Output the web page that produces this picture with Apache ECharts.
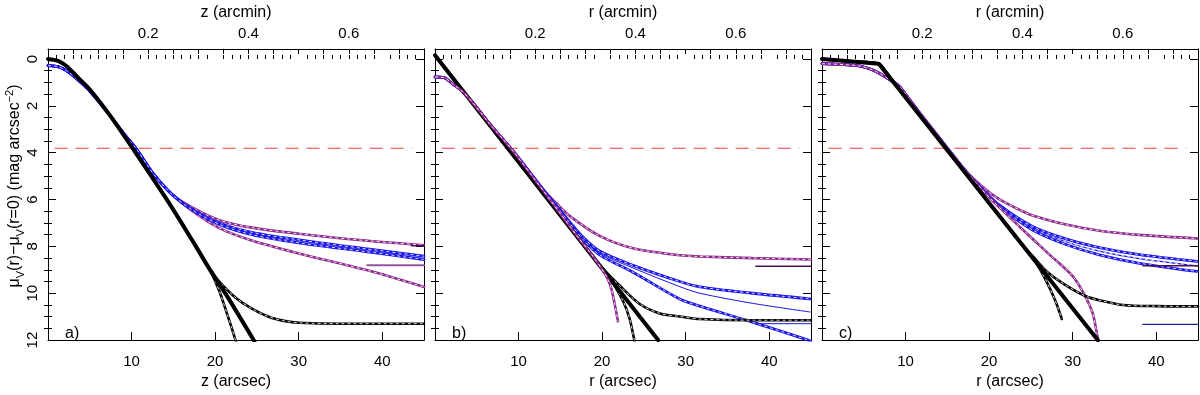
<!DOCTYPE html>
<html>
<head>
<meta charset="utf-8">
<script src="https://cdn.jsdelivr.net/npm/echarts@6/dist/echarts.min.js"></script>
<style>
  html, body { margin: 0; background: #fff; }
  #chart { width: 1200px; height: 395px; }
</style>
</head>
<body>
<div id="chart"></div>
<script>
// ---- ticks and labels ----
const xMajorTicks = [10, 20, 30, 40];
const xMinorTicks = [1, 2, 3, 4, 5, 6, 7, 8, 9, 11, 12, 13, 14, 15, 16, 17, 18, 19,
  21, 22, 23, 24, 25, 26, 27, 28, 29, 31, 32, 33, 34, 35, 36, 37, 38, 39, 41, 42, 43, 44];
const arcminTicks = [0.05, 0.1, 0.15, 0.2, 0.25, 0.3, 0.35, 0.4, 0.45, 0.5, 0.55, 0.6, 0.65, 0.7];
const arcminLabels = [0.2, 0.4, 0.6];
const yMajorTicks = [0, 2, 4, 6, 8, 10];
const yMinorTicks = [0.5, 1, 1.5, 2.5, 3, 3.5, 4.5, 5, 5.5, 6.5, 7, 7.5, 8.5, 9, 9.5, 10.5, 11, 11.5];
const yTickLabels = [0, 2, 4, 6, 8, 10, 12];
const xNames = ['z', 'r', 'r'];
const panelTags = ['a)', 'b)', 'c)'];

// horizontal reference level (red dashed)
const skyX = [0.8, 43.6];
const skyY = 3.81;

// ---- panel a ----
const aTrunk = [[0, 0], [1.2, 0.08], [2.2, 0.3], [3.6, 0.8], [5, 1.3], [7.5, 2.45], [10.1, 3.8],
  [14.4, 6.1], [17.7, 8.0], [19.3, 8.95]];
const aThickEnd = [[21.3, 10.05], [24.7, 12.05]];
const aSteepEnd = [[20.5, 9.9], [21.4, 10.85], [22, 11.5], [22.6, 12.2]];
const aFlatEnd = [[20.5, 9.5], [22.5, 10.2], [24.4, 10.66], [26.4, 11.0], [28.4, 11.19], [30, 11.26], [35, 11.3], [45, 11.3]];
const aBundle = [[0, 0.28], [1.2, 0.33], [2.2, 0.5], [3.6, 0.9], [5.2, 1.45], [7.5, 2.45], [9, 3.15],
  [10.7, 3.9], [12.5, 4.85], [14.9, 5.8]];
const aBlue1End = [[17.3, 6.42], [20.5, 7.0], [24.4, 7.4], [30, 7.72], [38, 8.1], [45, 8.42]];
const aBlue2End = [[17.3, 6.45], [20.5, 7.06], [24.4, 7.5], [30, 7.85], [38, 8.22], [45, 8.56]];
const aPurpleUpEnd = [[17.3, 6.35], [20.5, 6.88], [24.4, 7.2], [30, 7.46], [38, 7.75], [45, 7.95]];
const aPurpleLowEnd = [[17.3, 6.5], [20.5, 7.22], [24.4, 7.75], [30, 8.3], [38, 9.0], [45, 9.73]];
const aMarkPurple = [[38.2, 8.81], [45, 8.81]];
const aMarkDark = [[43.5, 7.97], [45, 7.97]];

// ---- panel b ----
const bThick = [[0, -0.16], [26.7, 12.0]];
const bTrunk = [[0, -0.16], [10, 4.39], [19.5, 8.71]];
const bSteepEnd = [[20.9, 9.35], [22.5, 10.33], [23.3, 11.1], [23.9, 12.1]];
const bFlatEnd = [[22.1, 9.67], [24.5, 10.46], [26.9, 10.86], [29.3, 10.99], [31.7, 11.1], [38, 11.15], [45, 11.15]];
const bBundle = [[0, 0.77], [1.1, 0.8], [2.1, 1.06], [3.3, 1.39], [4.5, 1.86], [6.5, 2.75], [9.5, 4.0], [13, 5.6]];
const bBlueUpEnd = [[16, 6.9], [17.7, 7.6], [19.7, 8.2], [23.7, 8.81], [29.3, 9.5], [31.7, 9.73], [38, 10.0], [44.9, 10.24]];
const bBlueThinEnd = [[16, 6.92], [17.7, 7.65], [19.7, 8.28], [23.7, 8.92], [29.3, 9.72], [31.7, 10.0], [38, 10.43], [44.9, 10.8]];
const bBlueLowEnd = [[16, 6.95], [17.7, 7.7], [19.7, 8.36], [23.7, 9.1], [29.3, 10.25], [31.7, 10.55], [37.7, 11.2], [44.5, 11.98], [45, 12.05]];
const bPurpleUpEnd = [[14.5, 6.15], [16.3, 6.75], [19.7, 7.55], [23.7, 8.08], [29.3, 8.38], [31.7, 8.43], [38, 8.5], [45, 8.56]];
const bPurpleSteepEnd = [[17, 7.55], [18.9, 8.42], [20.5, 9.27], [21.1, 9.8], [21.5, 10.46], [21.9, 11.2]];
const bMarkPurple = [[38.4, 8.85], [45, 8.85]];
const bMarkBlue = [[38.4, 11.3], [45, 11.3]];

// ---- panel c ----
const cThick = [[0, 0], [6.8, 0.2], [33, 12]];
const cTrunk = [[0, 0], [3.4, 0.1], [6.8, 0.2], [7.6, 0.52], [9, 1.18], [15.2, 3.99], [24, 7.96]];
const cSteepEnd = [[25.5, 8.64], [26.8, 9.45], [27.9, 10.3], [28.7, 11.1]];
const cFlatEnd = [[25.3, 8.45], [27, 9.1], [29.2, 9.66], [31.6, 10.13], [33.2, 10.3], [36, 10.5], [40, 10.55], [45, 10.56]];
const cBundle = [[0, 0.2], [4.4, 0.29], [6, 0.46], [6.8, 0.6], [8, 0.86], [9.2, 1.15], [10.5, 1.75], [12, 2.45], [15, 3.8], [17, 4.7]];
const cBlue1End = [[19.2, 5.56], [21.2, 6.23], [25.2, 7.15], [29.2, 7.68], [33.2, 8.05], [38, 8.35], [44.9, 8.64]];
const cBlue2End = [[19.2, 5.57], [21.2, 6.25], [25.2, 7.22], [29.2, 7.8], [33.2, 8.2], [38, 8.52], [44.9, 8.83]];
const cBlue3End = [[19.2, 5.58], [21.2, 6.28], [25.2, 7.3], [29.2, 7.92], [33.2, 8.36], [38, 8.72], [44.9, 9.07]];
const cPurpleUpEnd = [[19.2, 5.45], [21.2, 5.98], [24, 6.5], [25.2, 6.68], [29.2, 7.07], [33.2, 7.33], [38.4, 7.52], [44.9, 7.66]];
const cPurpleLowEnd = [[20, 5.9], [24, 7.28], [27.2, 8.34], [30, 9.27], [31.4, 10.06], [32.4, 10.86], [32.9, 11.72], [33.1, 12.1]];
const cMarkPurple = [[38.4, 8.83], [45, 8.83]];
const cMarkBlue = [[38.4, 11.33], [45, 11.33]];

// ---- layout ----
const panelLeft = [48, 435, 822];
const panelWidth = 376;
const font = 'Liberation Sans, Arial, Helvetica, sans-serif';
const BLACK = '#000000', BLUE = '#1a14e6', PURPLE = '#8e2a8e', DARKPURPLE = '#4d0f4d', NAVY = '#22229a';

const chart = echarts.init(document.getElementById('chart'));
const grid = [], xAxis = [], yAxis = [], series = [], graphic = [];

for (let p = 0; p < 3; p++) {
  grid.push({ left: panelLeft[p], width: panelWidth, top: 39, height: 313 });
  const tickStyle = { color: '#000', width: 1 };
  xAxis.push({
    gridIndex: p, type: 'value', min: 0, max: 45, position: 'bottom',
    axisLine: { show: true, onZero: false, lineStyle: tickStyle },
    axisTick: { show: true, inside: true, length: 8, customValues: xMajorTicks, lineStyle: tickStyle },
    axisLabel: { customValues: xMajorTicks, fontSize: 15, color: '#000', margin: 14, fontFamily: font },
    splitLine: { show: false },
    name: xNames[p] + ' (arcsec)', nameLocation: 'middle', nameGap: 30,
    nameTextStyle: { fontSize: 16, color: '#000', fontFamily: font }
  });
  xAxis.push({
    gridIndex: p, type: 'value', min: 0, max: 45, position: 'bottom',
    axisLine: { show: false },
    axisTick: { show: true, inside: true, length: 4, customValues: xMinorTicks, lineStyle: tickStyle },
    axisLabel: { show: false }, splitLine: { show: false }
  });
  xAxis.push({
    gridIndex: p, type: 'value', min: 0, max: 0.75, position: 'top',
    axisLine: { show: true, onZero: false, lineStyle: tickStyle },
    axisTick: { show: true, inside: true, length: 5, customValues: arcminTicks, lineStyle: tickStyle },
    axisLabel: { customValues: arcminLabels, fontSize: 15, color: '#000', margin: 8, fontFamily: font,
      formatter: v => v.toFixed(1) },
    splitLine: { show: false },
    name: xNames[p] + ' (arcmin)', nameLocation: 'middle', nameGap: 23,
    nameTextStyle: { fontSize: 16, color: '#000', fontFamily: font }
  });
  ['left', 'right'].forEach(side => {
    yAxis.push({
      gridIndex: p, type: 'value', inverse: true, min: -0.43, max: 12, position: side,
      axisLine: { show: true, onZero: false, lineStyle: tickStyle },
      axisTick: { show: true, inside: true, length: 8, customValues: yMajorTicks, lineStyle: tickStyle },
      axisLabel: { show: p === 0 && side === 'left', customValues: yTickLabels, rotate: 90,
        fontSize: 15, color: '#000', margin: 8, fontFamily: font },
      splitLine: { show: false }
    });
    yAxis.push({
      gridIndex: p, type: 'value', inverse: true, min: -0.43, max: 12, position: side,
      axisLine: { show: false },
      axisTick: { show: true, inside: true, length: 4, customValues: yMinorTicks, lineStyle: tickStyle },
      axisLabel: { show: false }, splitLine: { show: false }
    });
  });
  graphic.push({
    type: 'text', left: panelLeft[p] + 17, top: 326,
    style: { text: panelTags[p], fontSize: 16, fill: '#000', fontFamily: font }
  });
}

function curve(p, pts, color, width, dashed, smooth = true) {
  const base = {
    type: 'line', xAxisIndex: 3 * p, yAxisIndex: 4 * p, data: pts,
    showSymbol: false, symbol: 'none', silent: true, animation: false,
    smooth: smooth ? 0.3 : false,
    lineStyle: { color: color, width: width, cap: 'round' }
  };
  series.push(base);
  if (dashed) {
    series.push(Object.assign({}, base, {
      lineStyle: { color: '#ffffff', width: 1, type: [3, 3], opacity: 0.85 }
    }));
  }
}

for (let p = 0; p < 3; p++) {
  series.push({
    type: 'line', xAxisIndex: 3 * p, yAxisIndex: 4 * p, silent: true, animation: false,
    showSymbol: false, symbol: 'none',
    data: skyX.map(x => [x, skyY]),
    lineStyle: { color: '#f03a3a', width: 1.2, type: [13, 8] }
  });
}

// panel a
curve(0, aBundle.concat(aPurpleUpEnd), PURPLE, 2.6, true);
curve(0, aBundle.concat(aPurpleLowEnd), PURPLE, 2.6, true);
curve(0, aBundle.concat(aBlue1End), BLUE, 2.8, true);
curve(0, aBundle.concat(aBlue2End), BLUE, 2.8, true);
curve(0, aTrunk.concat(aFlatEnd), BLACK, 2.6, true);
curve(0, aTrunk.concat(aSteepEnd), BLACK, 2.6, true);
curve(0, aTrunk.concat(aThickEnd), BLACK, 4, false);
curve(0, aMarkPurple, '#93569a', 2, false, false);
curve(0, aMarkDark, DARKPURPLE, 1.5, false, false);

// panel b
curve(1, bBundle.concat(bPurpleUpEnd), PURPLE, 2.6, true);
curve(1, bBundle.concat(bBlueUpEnd), BLUE, 2.8, true);
curve(1, bBundle.concat(bBlueThinEnd), BLUE, 1, false);
curve(1, bBundle.concat(bBlueLowEnd), BLUE, 2.8, true);
curve(1, bTrunk.concat(bFlatEnd), BLACK, 2.6, true);
curve(1, bTrunk.concat(bSteepEnd), BLACK, 2.6, true);
curve(1, bThick, BLACK, 4, false, false);
curve(1, bBundle.slice(0, 7).concat(bPurpleSteepEnd), PURPLE, 2.6, true);
curve(1, bMarkPurple, DARKPURPLE, 1.5, false, false);
curve(1, bMarkBlue, BLUE, 1, false, false);

// panel c
curve(2, cBundle.concat(cPurpleUpEnd), PURPLE, 2.6, true);
curve(2, cBundle.concat(cBlue1End), BLUE, 2.8, true);
curve(2, cBundle.concat(cBlue2End), BLUE, 1.2, true);
curve(2, cBundle.concat(cBlue3End), BLUE, 2.8, true);
curve(2, cBundle.concat(cPurpleLowEnd), PURPLE, 2.6, true);
curve(2, cTrunk.concat(cFlatEnd), BLACK, 2.6, true);
curve(2, cTrunk.concat(cSteepEnd), BLACK, 2.6, true);
curve(2, cThick, BLACK, 4, false, false);
curve(2, cMarkPurple, DARKPURPLE, 1.5, false, false);
curve(2, cMarkBlue, NAVY, 1.2, false, false);

// y axis title with sub/superscripts
graphic.push({
  type: 'text', x: 15, y: 186, rotation: Math.PI / 2,
  style: {
    text: '{m|μ}{s|V}{m|(r)−μ}{s|V}{m|(r=0) (mag arcsec}{p|−2}{m|)}',
    align: 'center', verticalAlign: 'middle', fill: '#000',
    rich: {
      m: { fontSize: 16, lineHeight: 22, fontFamily: font, fill: '#000' },
      s: { fontSize: 11, lineHeight: 11, verticalAlign: 'bottom', fontFamily: font, fill: '#000' },
      p: { fontSize: 11, lineHeight: 11, verticalAlign: 'top', fontFamily: font, fill: '#000' }
    }
  }
});

chart.setOption({
  animation: false,
  backgroundColor: '#ffffff',
  grid: grid,
  xAxis: xAxis,
  yAxis: yAxis,
  series: series,
  graphic: graphic
});
</script>
</body>
</html>
